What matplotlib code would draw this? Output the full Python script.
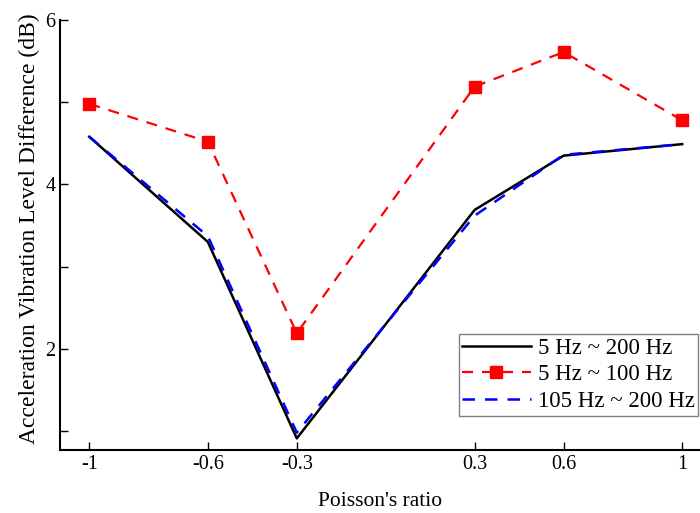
import matplotlib
matplotlib.use("Agg")
import matplotlib.pyplot as plt
from matplotlib.ticker import MultipleLocator

poisson = [-1, -0.6, -0.3, 0.3, 0.6, 1]
tick_labels = ["-1", "-0.6", "-0.3", "0.3", "0.6", "1"]
band_5_200 = [4.58, 3.30, 0.91, 3.69, 4.35, 4.49]
band_5_100 = [4.98, 4.52, 2.19, 5.19, 5.61, 4.78]
band_105_200 = [4.58, 3.37, 0.98, 3.62, 4.36, 4.49]

plt.rcParams["font.family"] = ["Liberation Serif", "DejaVu Serif"]

fig = plt.figure(figsize=(7, 5.13), dpi=100)
ax = fig.add_axes([0.086, 0.123, 0.914, 0.838])

ax.plot(poisson, band_5_200, color="black", lw=1.8, label="5 Hz ~ 200 Hz")
ax.plot(poisson, band_5_100, color="red", lw=1.6, ls=(0, (5, 4)), marker="s",
        ms=8, label="5 Hz ~ 100 Hz")
ax.plot(poisson, band_105_200, color="blue", lw=1.8, ls=(0, (5, 4)),
        label="105 Hz ~ 200 Hz")

ax.set_xlim(-1.098, 1.06)
ax.set_ylim(0.77, 6)
ax.set_xticks(poisson)
ax.set_xticklabels(tick_labels)
ax.yaxis.set_major_locator(MultipleLocator(2))
ax.yaxis.set_minor_locator(MultipleLocator(1))
ax.tick_params(direction="in", which="both", length=6, width=1, labelsize=14.5)
ax.spines["top"].set_visible(False)
ax.spines["right"].set_visible(False)
ax.spines["left"].set_linewidth(1.5)
ax.spines["bottom"].set_linewidth(1.5)

ax.set_xlabel("Poisson's ratio", fontsize=15.5, labelpad=13)
ax.set_ylabel("Acceleration Vibration Level Difference (dB)", fontsize=17,
              labelpad=4, y=0.515)

leg = ax.legend(loc="lower right", bbox_to_anchor=(0.997, 0.08), fontsize=16.5,
                fancybox=False, framealpha=1, edgecolor="gray",
                handlelength=3.0, borderpad=0.15, borderaxespad=0,
                labelspacing=0.25, handletextpad=0.3)
leg.get_frame().set_linewidth(1)

fig.savefig("out.png", dpi=100)
